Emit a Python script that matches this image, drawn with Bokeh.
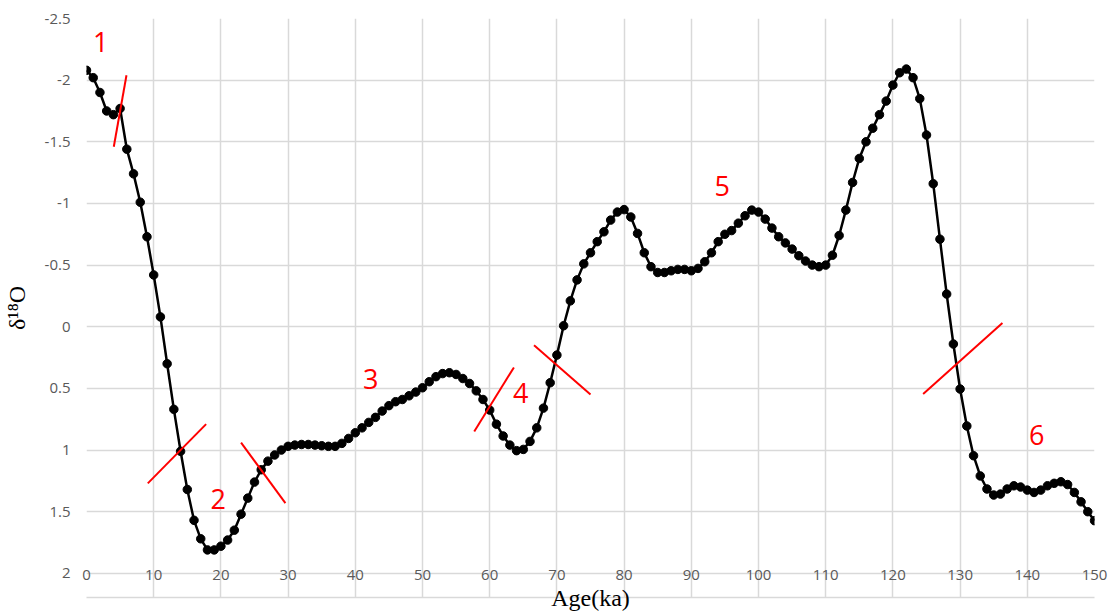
from bokeh.plotting import figure
from bokeh.models import Range1d, FixedTicker
from bokeh.core.properties import value
from bokeh.embed import file_html
from bokeh.resources import INLINE

# ---- data ----
age = list(range(0, 151))
d18o = [
    -2.08, -2.02, -1.90, -1.75, -1.72, -1.77, -1.44, -1.24, -1.01, -0.73,
    -0.42, -0.08, 0.30, 0.67, 1.01, 1.32, 1.57, 1.72, 1.81, 1.81,
    1.78, 1.73, 1.65, 1.52, 1.39, 1.26, 1.16, 1.09, 1.04, 1.00,
    0.97, 0.96, 0.955, 0.955, 0.96, 0.965, 0.97, 0.97, 0.946, 0.906,
    0.86, 0.82, 0.776, 0.735, 0.684, 0.64, 0.608, 0.59, 0.56, 0.53,
    0.495, 0.446, 0.405, 0.38, 0.373, 0.387, 0.42, 0.46, 0.52, 0.59,
    0.676, 0.79, 0.886, 0.96, 1.005, 0.995, 0.93, 0.82, 0.66, 0.454,
    0.23, -0.008, -0.21, -0.38, -0.51, -0.60, -0.69, -0.77, -0.865, -0.93,
    -0.95, -0.89, -0.757, -0.60, -0.487, -0.44, -0.44, -0.454, -0.465, -0.465,
    -0.454, -0.473, -0.527, -0.60, -0.69, -0.75, -0.78, -0.84, -0.90, -0.946,
    -0.93, -0.873, -0.80, -0.73, -0.68, -0.63, -0.576, -0.533, -0.50, -0.487,
    -0.50, -0.58, -0.74, -0.946, -1.17, -1.365, -1.50, -1.61, -1.72, -1.83,
    -1.96, -2.06, -2.09, -2.02, -1.85, -1.555, -1.16, -0.71, -0.265, 0.14,
    0.505, 0.805, 1.046, 1.21, 1.316, 1.365, 1.357, 1.316, 1.29, 1.30,
    1.325, 1.344, 1.325, 1.29, 1.27, 1.257, 1.28, 1.344, 1.42, 1.50,
    1.573,
]

xticks = [0, 10, 20, 30, 40, 50, 60, 70, 80, 90, 100, 110, 120, 130, 140, 150]
xtick_labels = ["0", "10", "20", "30", "40", "50", "60", "70", "80", "90",
                "100", "110", "120", "130", "140", "150"]
yticks = [-2.5, -2, -1.5, -1, -0.5, 0, 0.5, 1, 1.5, 2]
ytick_labels = ["-2.5", "-2", "-1.5", "-1", "-0.5", "0", "0.5", "1", "1.5", "2"]

# stage boundary marks (red strokes)
bound_x0 = [4.06, 9.12, 23.0, 57.7, 66.6, 124.5]
bound_y0 = [-1.46, 1.27, 0.94, 0.85, 0.15, 0.546]
bound_x1 = [5.95, 17.8, 29.6, 63.6, 75.0, 136.3]
bound_y1 = [-2.04, 0.79, 1.43, 0.33, 0.55, -0.03]

# stage numbers
stage_text = ["1", "2", "3", "4", "5", "6"]
stage_x = [2.1, 19.6, 42.3, 64.6, 94.6, 141.4]
stage_y = [-2.31, 1.40, 0.42, 0.54, -1.14, 0.88]

# ---- figure ----
p = figure(width=1109, height=614, output_backend="svg", toolbar_location=None,
           x_range=Range1d(0, 150), y_range=Range1d(2.196, -2.5),
           min_border_left=86, min_border_right=15, min_border_top=18,
           min_border_bottom=17)
p.outline_line_color = None
p.background_fill_color = "white"
p.border_fill_color = "white"

grid_color = "#d9d9d9"
p.xgrid.ticker = FixedTicker(ticks=xticks)
p.ygrid.ticker = FixedTicker(ticks=yticks)
for g in (p.xgrid, p.ygrid):
    g.grid_line_color = grid_color
    g.grid_line_width = 1.5

xa = p.xaxis[0]
xa.ticker = FixedTicker(ticks=xticks)
xa.major_label_overrides = {t: l for t, l in zip(xticks, xtick_labels)}
xa.major_tick_line_color = None
xa.minor_tick_line_color = None
xa.major_tick_out = 0
xa.major_tick_in = 0
xa.axis_line_color = grid_color
xa.axis_line_width = 1.5
xa.major_label_standoff = -28
xa.major_label_text_font = "Open Sans"
xa.major_label_text_font_size = "15px"
xa.major_label_text_color = "#595959"
xa.axis_label = "Age(ka)"
xa.axis_label_text_font = "Liberation Serif"
xa.axis_label_text_font_style = "normal"
xa.axis_label_text_font_size = "24px"
xa.axis_label_text_color = "#000000"
xa.axis_label_standoff = 2

ya = p.yaxis[0]
ya.ticker = FixedTicker(ticks=yticks)
ya.major_label_overrides = {t: l for t, l in zip(yticks, ytick_labels)}
ya.major_tick_line_color = None
ya.minor_tick_line_color = None
ya.major_tick_out = 0
ya.major_tick_in = 0
ya.axis_line_color = None
ya.major_label_standoff = 16
ya.major_label_text_font = "Open Sans"
ya.major_label_text_font_size = "15px"
ya.major_label_text_color = "#595959"
ya.axis_label = "δ¹⁸O"
ya.axis_label_text_font = "Liberation Serif"
ya.axis_label_text_font_style = "normal"
ya.axis_label_text_font_size = "24px"
ya.axis_label_text_color = "#000000"
ya.axis_label_standoff = 12

p.line(age, d18o, line_color="black", line_width=2.5)
p.scatter(age, d18o, size=8.5, fill_color="black", line_color="black")

p.segment(x0=bound_x0, y0=bound_y0, x1=bound_x1, y1=bound_y1,
          line_color="#ff0000", line_width=2)

p.text(x=stage_x, y=stage_y, text=stage_text, text_color="#ff0000",
       text_font=value("Open Sans"), text_font_size="27px",
       text_align="center", text_baseline="middle")

open("out.html", "w").write(file_html(p, INLINE))
